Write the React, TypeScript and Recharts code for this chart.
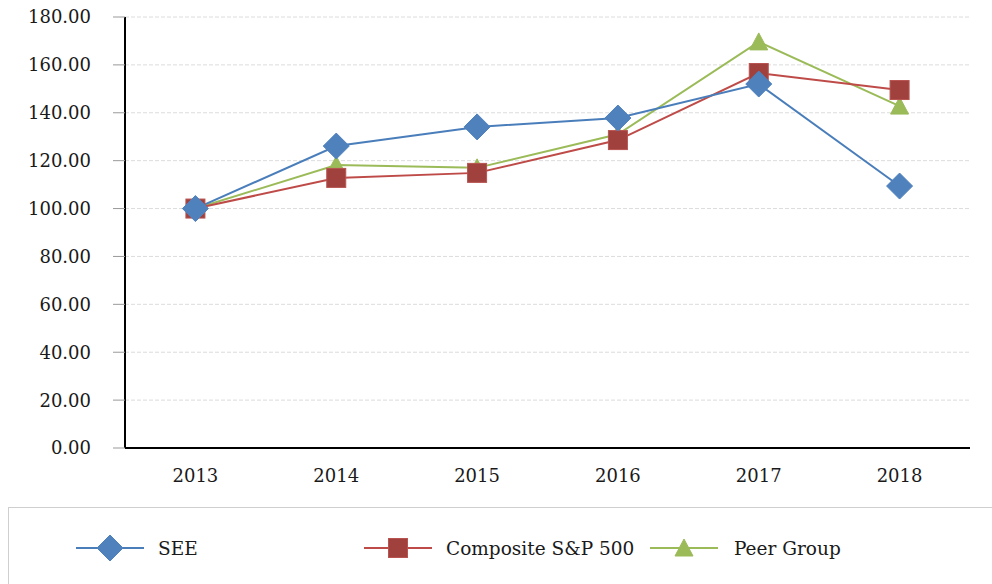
import React from 'react';
import { LineChart, Line, XAxis, YAxis, CartesianGrid } from 'recharts';

const years = ['2013', '2014', '2015', '2016', '2017', '2018'];
const seeValues = [100, 126.1, 134.1, 137.8, 152.0, 109.4];
const compositeValues = [100, 112.8, 114.9, 128.6, 156.6, 149.5];
const peerValues = [100, 118.2, 117.0, 131.0, 169.6, 142.8];
const yTicks = [0, 20, 40, 60, 80, 100, 120, 140, 160, 180];
const seriesNames = ['SEE', 'Composite S&P 500', 'Peer Group'];

const data = years.map((y, i) => ({
  year: y,
  see: seeValues[i],
  composite: compositeValues[i],
  peer: peerValues[i],
}));

const FONT = "'DejaVu Serif', serif";
const SEE_LINE = '#4A7EBB';
const SEE_FILL = '#4F81BD';
const COMP_LINE = '#BE4B48';
const COMP_FILL = '#A0413E';
const PEER_LINE = '#9BBB59';
const PEER_FILL = '#9BBB59';

const Diamond = (cx: number, cy: number, r: number, fill: string, key?: any) => (
  <path key={key} d={`M${cx},${cy - r} L${cx + r},${cy} L${cx},${cy + r} L${cx - r},${cy} Z`} fill={fill} stroke={fill} />
);
const Square = (cx: number, cy: number, s: number, fill: string, key?: any) => (
  <rect key={key} x={cx - s / 2} y={cy - s / 2} width={s} height={s} fill={fill} stroke="#B85350" strokeWidth={1} />
);
const Triangle = (cx: number, cy: number, w: number, h: number, fill: string, key?: any) => (
  <path key={key} d={`M${cx},${cy - h / 2 - 1} L${cx + w / 2},${cy + h / 2} L${cx - w / 2},${cy + h / 2} Z`} fill={fill} stroke={fill} />
);

const seeDot = (p: any) => Diamond(p.cx, p.cy, 13, SEE_FILL, p.index);
const compDot = (p: any) => Square(p.cx, p.cy, 19, COMP_FILL, p.index);
const peerDot = (p: any) => Triangle(p.cx, p.cy, 18, 16, PEER_FILL, p.index);

const tickStyle = { fill: '#1a1a1a', fontSize: 18, fontFamily: FONT };

export default function App() {
  return (
    <div style={{ position: 'absolute', left: 0, top: 0, width: 992, height: 584, background: '#fff', overflow: 'hidden', fontFamily: FONT }}>
      <LineChart
        width={992}
        height={500}
        data={data}
        margin={{ top: 17, right: 22, bottom: 0, left: 0 }}
      >
        <CartesianGrid vertical={false} stroke="#dcdcdc" strokeDasharray="4 2" />
        <XAxis
          dataKey="year"
          scale="band"
          height={52}
          tickSize={0}
          tickMargin={21}
          axisLine={{ stroke: '#000', strokeWidth: 2 }}
          tickLine={false}
          tick={tickStyle}
        />
        <YAxis
          width={125}
          domain={[0, 180]}
          ticks={yTicks}
          interval={0}
          tickFormatter={(v: number) => v.toFixed(2)}
          tickSize={12}
          tickMargin={22}
          axisLine={{ stroke: '#000', strokeWidth: 2 }}
          tickLine={{ stroke: '#999' }}
          tick={tickStyle}
        />
        <Line dataKey="peer" name={seriesNames[2]} stroke={PEER_LINE} strokeWidth={2} dot={peerDot} isAnimationActive={false} />
        <Line dataKey="composite" name={seriesNames[1]} stroke={COMP_LINE} strokeWidth={2} dot={compDot} isAnimationActive={false} />
        <Line dataKey="see" name={seriesNames[0]} stroke={SEE_LINE} strokeWidth={2} dot={seeDot} isAnimationActive={false} />
      </LineChart>
      <div style={{ position: 'absolute', left: 8, top: 507, width: 1000, height: 100, border: '1px solid #cfcfcf', boxSizing: 'border-box' }} />
      <svg style={{ position: 'absolute', left: 0, top: 507 }} width={992} height={77}>
        <g fontSize={18.5} fill="#1a1a1a" fontFamily={FONT}>
          <line x1={76} y1={41} x2={144} y2={41} stroke={SEE_LINE} strokeWidth={2} />
          {Diamond(110, 41, 13, SEE_FILL)}
          <text x={158} y={41} dominantBaseline="central">{seriesNames[0]}</text>
          <line x1={364} y1={41} x2={432} y2={41} stroke={COMP_LINE} strokeWidth={2} />
          {Square(398, 41, 19, COMP_FILL)}
          <text x={446} y={41} dominantBaseline="central">{seriesNames[1]}</text>
          <line x1={650} y1={41} x2={718} y2={41} stroke={PEER_LINE} strokeWidth={2} />
          {Triangle(684, 41, 18, 16, PEER_FILL)}
          <text x={734} y={41} dominantBaseline="central">{seriesNames[2]}</text>
        </g>
      </svg>
    </div>
  );
}
